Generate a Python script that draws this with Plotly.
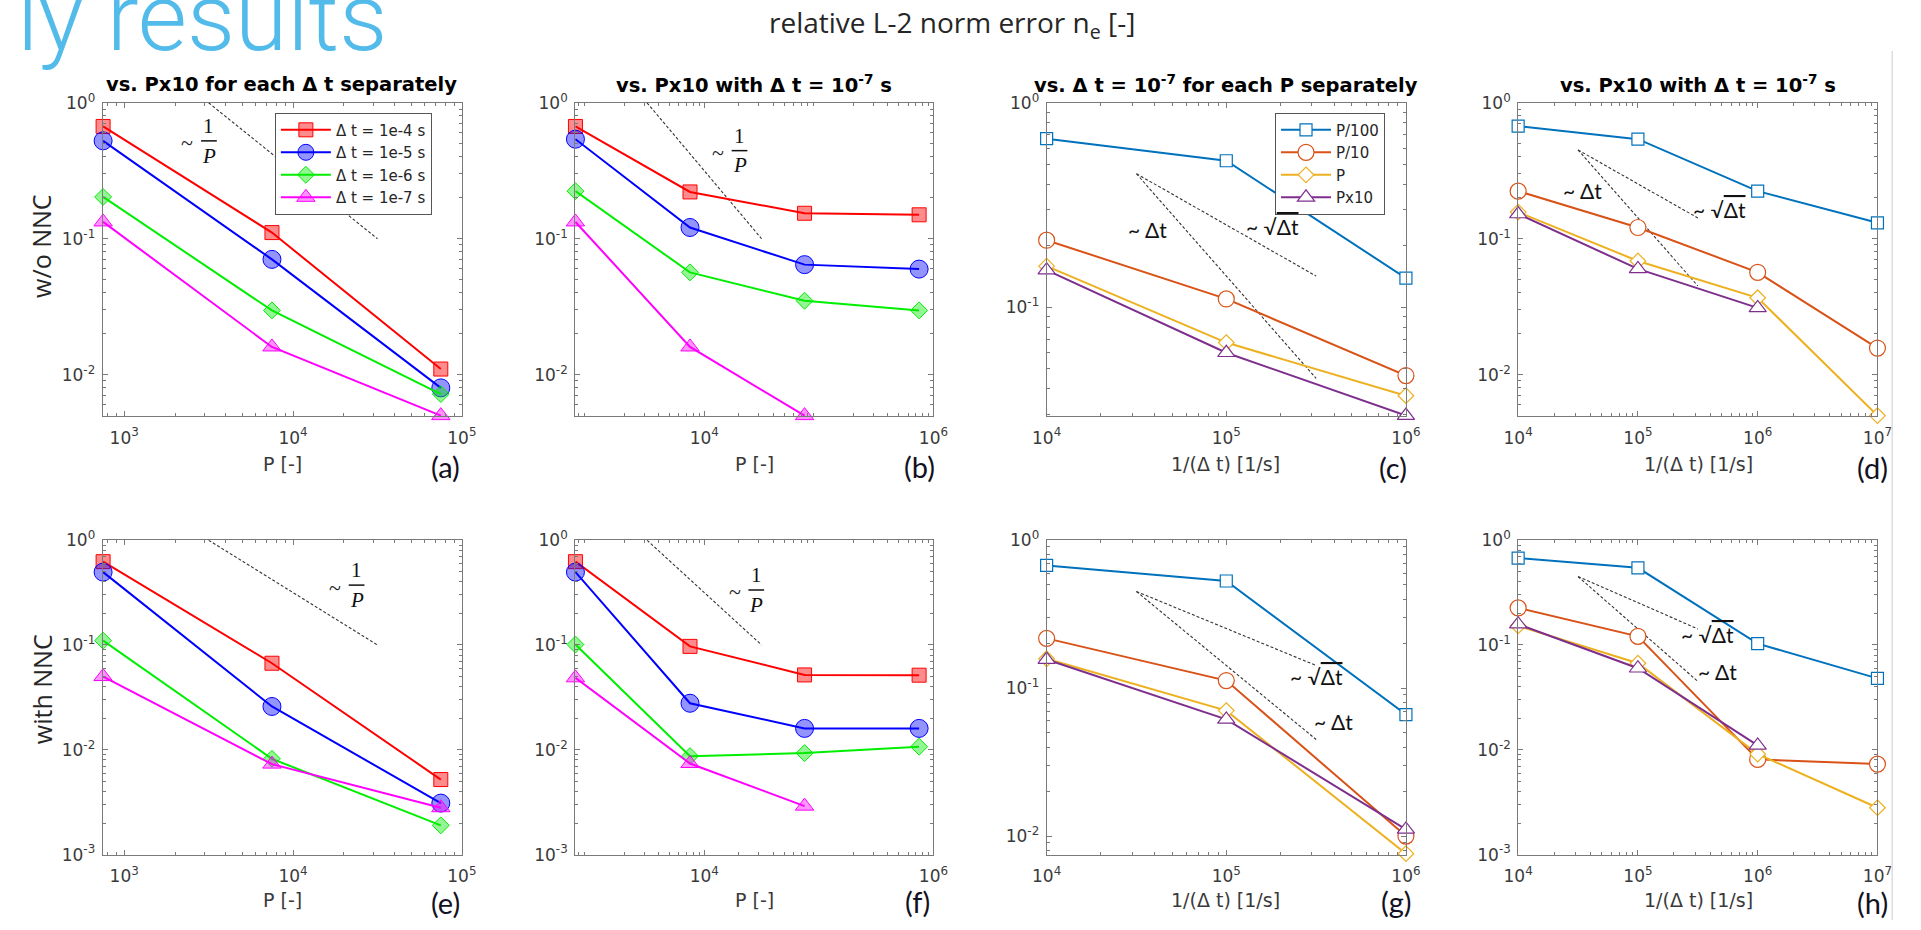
import math
import plotly.graph_objects as go

W, H = 1921, 930

# ---------------- data ----------------
P_three = [750, 7500, 75000]
P_four = [750, 7500, 75000, 750000]
inv_dt_three = [1e4, 1e5, 1e6]
inv_dt_four = [1e4, 1e5, 1e6, 1e7]

dt_names = ["Δ t = 1e-4 s", "Δ t = 1e-5 s", "Δ t = 1e-6 s", "Δ t = 1e-7 s"]
p_names = ["P/100", "P/10", "P", "Px10"]

# (a) w/o NNC, vs P for each dt
a_dt4 = [0.67, 0.111, 0.011]
a_dt5 = [0.525, 0.0705, 0.008]
a_dt6 = [0.203, 0.0297, 0.0072]
a_dt7 = [0.133, 0.016, 0.005]
# (b) w/o NNC, vs Px10
b_dt4 = [0.67, 0.221, 0.154, 0.150]
b_dt5 = [0.54, 0.121, 0.0645, 0.0598]
b_dt6 = [0.224, 0.0566, 0.035, 0.0297]
b_dt7 = [0.133, 0.016, 0.005]
# (c) w/o NNC, vs 1/dt for each P
c_p100 = [0.668, 0.521, 0.139]
c_p10 = [0.213, 0.110, 0.0464]
c_p = [0.159, 0.0673, 0.037]
c_px10 = [0.152, 0.060, 0.0296]
# (d) w/o NNC, vs 1/dt
d_p100 = [0.673, 0.54, 0.224, 0.131]
d_p10 = [0.224, 0.121, 0.0566, 0.0157]
d_p = [0.157, 0.0686, 0.0368, 0.005]
d_px10 = [0.152, 0.060, 0.031]
# (e) with NNC
e_dt4 = [0.624, 0.067, 0.0052]
e_dt5 = [0.496, 0.0259, 0.0031]
e_dt6 = [0.110, 0.0082, 0.0019]
e_dt7 = [0.050, 0.0073, 0.0028]
# (f) with NNC
f_dt4 = [0.624, 0.097, 0.0518, 0.0515]
f_dt5 = [0.496, 0.0278, 0.016, 0.016]
f_dt6 = [0.101, 0.0087, 0.0093, 0.0107]
f_dt7 = [0.0486, 0.0074, 0.0029]
# (g) with NNC
g_p100 = [0.675, 0.53, 0.0663]
g_p10 = [0.217, 0.1125, 0.010]
g_p = [0.158, 0.0705, 0.0076]
g_px10 = [0.156, 0.0615, 0.0111]
# (h) with NNC
h_p100 = [0.675, 0.545, 0.103, 0.048]
h_p10 = [0.226, 0.121, 0.0081, 0.0073]
h_p = [0.152, 0.067, 0.0091, 0.0028]
h_px10 = [0.158, 0.060, 0.011]

# reference slopes
ref_invP_x = [3162, 31623]
ref_invP_y = [1.0, 0.1]
ref_dt_x = [31623, 316228]
ref_dt_y = [0.45, 0.045]
ref_sqrt_x = [31623, 316228]
ref_sqrt_y = [0.45, 0.1423]

# tick labels
xt_P3_vals = [1e3, 1e4, 1e5]
xt_P3_text = ["10<sup>3</sup>", "10<sup>4</sup>", "10<sup>5</sup>"]
xt_P6_vals = [1e4, 1e6]
xt_P6_text = ["10<sup>4</sup>", "10<sup>6</sup>"]
xt_f6_vals = [1e4, 1e5, 1e6]
xt_f6_text = ["10<sup>4</sup>", "10<sup>5</sup>", "10<sup>6</sup>"]
xt_f7_vals = [1e4, 1e5, 1e6, 1e7]
xt_f7_text = ["10<sup>4</sup>", "10<sup>5</sup>", "10<sup>6</sup>", "10<sup>7</sup>"]
yt_2_vals = [1e-2, 1e-1, 1]
yt_2_text = ["10<sup>-2</sup>", "10<sup>-1</sup>", "10<sup>0</sup>"]
yt_1_vals = [1e-1, 1]
yt_1_text = ["10<sup>-1</sup>", "10<sup>0</sup>"]
yt_3_vals = [1e-3, 1e-2, 1e-1, 1]
yt_3_text = ["10<sup>-3</sup>", "10<sup>-2</sup>", "10<sup>-1</sup>", "10<sup>0</sup>"]

# ---------------- styling ----------------
DT_STYLE = [
    dict(color="#FF0000", fill="rgba(255,0,0,0.45)", symbol="square", size=14),
    dict(color="#0000FF", fill="rgba(0,0,255,0.42)", symbol="circle", size=18),
    dict(color="#00EE00", fill="rgba(0,230,0,0.42)", symbol="diamond", size=13),
    dict(color="#FF00FF", fill="rgba(255,0,255,0.42)", symbol="triangle-up", size=16),
]
P_STYLE = [
    dict(color="#0072BD", symbol="square", size=12),
    dict(color="#D95319", symbol="circle", size=16),
    dict(color="#EDB120", symbol="diamond", size=12),
    dict(color="#7E2F8E", symbol="triangle-up", size=15),
]

rects = {
    1: (89, 93, 454, 414), 2: (569, 93, 933, 414),
    3: (1048, 93, 1413, 414), 4: (1527, 93, 1892, 414),
    5: (89, 541, 454, 863), 6: (569, 541, 933, 863),
    7: (1048, 541, 1413, 863), 8: (1527, 541, 1892, 863),
}
x_lo = math.log10(745)
y_lo = math.log10(0.00495)
xranges = {1: [x_lo, 5], 2: [x_lo, 6], 3: [4, 6], 4: [4, 7]}
xranges.update({5: xranges[1], 6: xranges[2], 7: xranges[3], 8: xranges[4]})
yranges = {1: [y_lo, 0], 2: [y_lo, 0], 3: [-1.532, 0],
           4: [y_lo, 0], 5: [-3, 0], 6: [-3, 0], 7: [-2.125, 0], 8: [-3, 0]}
xticks = {1: (xt_P3_vals, xt_P3_text), 2: (xt_P6_vals, xt_P6_text),
          3: (xt_f6_vals, xt_f6_text), 4: (xt_f7_vals, xt_f7_text)}
xticks.update({5: xticks[1], 6: xticks[2], 7: xticks[3], 8: xticks[4]})
yticks = {1: (yt_2_vals, yt_2_text), 2: (yt_2_vals, yt_2_text), 3: (yt_1_vals, yt_1_text),
          4: (yt_2_vals, yt_2_text), 5: (yt_3_vals, yt_3_text), 6: (yt_3_vals, yt_3_text),
          7: (yt_2_vals, yt_2_text), 8: (yt_3_vals, yt_3_text)}


def px(x):
    return x / W


def py(y):
    return 1 - y / H


def minor_vals(rng):
    lo, hi = int(math.floor(rng[0])), int(math.ceil(rng[1]))
    out = []
    for k in range(lo, hi):
        for m in range(2, 10):
            v = m * 10 ** k
            if rng[0] <= math.log10(v) <= rng[1]:
                out.append(v)
    return out


fig = go.Figure()


def axname(i):
    return ("x" if i == 1 else f"x{i}"), ("y" if i == 1 else f"y{i}")


def add_dt_panel(i, xs_list, ys_list, showleg):
    xa, ya = axname(i)
    for k, (xs, ys) in enumerate(zip(xs_list, ys_list)):
        s = DT_STYLE[k]
        fig.add_trace(go.Scatter(
            x=xs[:len(ys)], y=ys, mode="lines+markers", name=dt_names[k],
            xaxis=xa, yaxis=ya, showlegend=showleg, legend="legend",
            line=dict(color=s["color"], width=2),
            marker=dict(symbol=s["symbol"], size=s["size"], color=s["fill"],
                        line=dict(color=s["color"], width=1)),
            cliponaxis=False))


def add_p_panel(i, xs, ys_list, showleg):
    xa, ya = axname(i)
    for k, ys in enumerate(ys_list):
        s = P_STYLE[k]
        fig.add_trace(go.Scatter(
            x=xs[:len(ys)], y=ys, mode="lines+markers", name=p_names[k],
            xaxis=xa, yaxis=ya, showlegend=showleg, legend="legend2",
            line=dict(color=s["color"], width=2),
            marker=dict(symbol=s["symbol"], size=s["size"], color="white",
                        line=dict(color=s["color"], width=1.2)),
            cliponaxis=False))


def add_ref(i, xs, ys):
    xa, ya = axname(i)
    fig.add_trace(go.Scatter(x=xs, y=ys, mode="lines", xaxis=xa, yaxis=ya,
                             showlegend=False, hoverinfo="skip",
                             line=dict(color="#333333", width=1.1, dash="3px,2px")))


for i in (1, 2, 5, 6):
    add_ref(i, ref_invP_x, ref_invP_y)
for i in (3, 4, 7, 8):
    add_ref(i, ref_dt_x, ref_dt_y)
    add_ref(i, ref_sqrt_x, ref_sqrt_y)

add_dt_panel(1, [P_three] * 4, [a_dt4, a_dt5, a_dt6, a_dt7], True)
add_dt_panel(2, [P_four] * 4, [b_dt4, b_dt5, b_dt6, b_dt7], False)
add_p_panel(3, inv_dt_three, [c_p100, c_p10, c_p, c_px10], True)
add_p_panel(4, inv_dt_four, [d_p100, d_p10, d_p, d_px10], False)
add_dt_panel(5, [P_three] * 4, [e_dt4, e_dt5, e_dt6, e_dt7], False)
add_dt_panel(6, [P_four] * 4, [f_dt4, f_dt5, f_dt6, f_dt7], False)
add_p_panel(7, inv_dt_three, [g_p100, g_p10, g_p, g_px10], False)
add_p_panel(8, inv_dt_four, [h_p100, h_p10, h_p, h_px10], False)

AXC = "#7a7a7a"
TICKFONT = dict(family="DejaVu Sans", size=17, color="#3a3a3a")
layout = dict(
    width=W, height=H, margin=dict(l=0, r=0, t=0, b=0),
    paper_bgcolor="white", plot_bgcolor="white", showlegend=True,
)
for i, (l, t, r, b) in rects.items():
    xk = "xaxis" if i == 1 else f"xaxis{i}"
    yk = "yaxis" if i == 1 else f"yaxis{i}"
    xa, ya = axname(i)
    layout[xk] = dict(
        type="log", domain=[px(l), px(r)], range=xranges[i], anchor=ya,
        showline=True, linecolor=AXC, linewidth=1, mirror="ticks",
        ticks="inside", ticklen=5, tickcolor=AXC, tickwidth=1,
        tickmode="array", tickvals=xticks[i][0], ticktext=xticks[i][1],
        tickfont=TICKFONT, showgrid=False, zeroline=False, ticklabelstandoff=6,
        minor=dict(tickmode="array", tickvals=minor_vals(xranges[i]), ticks="inside",
                   ticklen=3, tickcolor=AXC, tickwidth=1, showgrid=False),
    )
    layout[yk] = dict(
        type="log", domain=[py(b), py(t)], range=yranges[i], anchor=xa,
        showline=True, linecolor=AXC, linewidth=1, mirror="ticks",
        ticks="inside", ticklen=5, tickcolor=AXC, tickwidth=1,
        tickmode="array", tickvals=yticks[i][0], ticktext=yticks[i][1],
        tickfont=TICKFONT, showgrid=False, zeroline=False, ticklabelstandoff=3,
        minor=dict(tickmode="array", tickvals=minor_vals(yranges[i]), ticks="inside",
                   ticklen=3, tickcolor=AXC, tickwidth=1, showgrid=False),
    )

leg_common = dict(bgcolor="white", bordercolor="#555555", borderwidth=1,
                  font=dict(family="DejaVu Sans", size=15, color="#262626"),
                  xanchor="left", yanchor="top", tracegroupgap=0, itemwidth=50,
                  itemclick=False)
layout["legend"] = dict(x=px(264), y=py(103), **leg_common)
layout["legend2"] = dict(x=px(1280), y=py(103), **leg_common)

anns = []
shapes = []


def ann(x, y, text, size, family="DejaVu Sans", color="#262626", **kw):
    d = dict(x=px(x), y=py(y), xref="paper", yref="paper", text=text, showarrow=False,
             font=dict(family=family, size=size, color=color), xanchor="center",
             yanchor="middle")
    d.update(kw)
    anns.append(d)


# slide title fragment and header
ann(0, 6, "ly results", 95, family="Roboto", color="#52BBEA", xanchor="left")
anns[-1]["font"]["weight"] = 300
ann(952, 12, "relative L-2 norm error n<sub>e</sub> [-]", 28, family="Open Sans", color="#262626")

# panel titles
TY = 74
ann(271, TY, "<b>vs. Px10 for each Δ t separately</b>", 19.5, color="black")
ann(751, TY, "<b>vs. Px10 with Δ t = 10<sup>-7</sup> s</b>", 19.5, color="black")
ann(1230, TY, "<b>vs. Δ t = 10<sup>-7</sup> for each P separately</b>", 19.5, color="black")
ann(1710, TY, "<b>vs. Px10 with Δ t = 10<sup>-7</sup> s</b>", 19.5, color="black")

# axis titles
for yy in (463, 910):
    ann(272, yy, "P [-]", 19, color="#3a3a3a")
    ann(751, yy, "P [-]", 19, color="#3a3a3a")
    ann(1230, yy, "1/(Δ t) [1/s]", 19, color="#3a3a3a")
    ann(1710, yy, "1/(Δ t) [1/s]", 19, color="#3a3a3a")

# panel letters
for (x, y, t) in [(437, 465, "(a)"), (919, 465, "(b)"), (1400, 467, "(c)"), (1887, 467, "(d)"),
                  (437, 912, "(e)"), (917, 911, "(f)"), (1403, 911, "(g)"), (1887, 912, "(h)")]:
    ann(x, y, t, 29, family="Lato", color="#111122")

# row labels
ann(27, 240, "w/o NNC", 25, family="Open Sans", color="#262626", textangle=-90)
ann(27, 694, "with NNC", 25, family="Open Sans", color="#262626", textangle=-90)


# ~ 1/P labels
def frac(cx, cy):
    ann(cx - 22, cy + 2, "~", 22, family="Liberation Serif", color="#222222")
    ann(cx, cy - 15, "1", 21, family="Liberation Serif", color="#111111")
    ann(cx, cy + 15, "<i>P</i>", 21, family="Liberation Serif", color="#111111")
    shapes.append(dict(type="line", xref="paper", yref="paper", x0=px(cx - 8), x1=px(cx + 8),
                       y0=py(cy), y1=py(cy), line=dict(color="#111111", width=1.5)))


frac(197, 132)
frac(736, 142)
frac(347, 587)
frac(753, 592)

SQRT = "~ √<span style='text-decoration:overline'>Δt</span>"
DT = "~ Δt"
for (x, y, t) in [(1150, 223, DT), (1277, 220, SQRT), (1592, 183, DT), (1732, 202, SQRT),
                  (1322, 681, SQRT), (1339, 727, DT), (1719, 638, SQRT), (1730, 675, DT)]:
    ann(x, y, t, 21, family="Lato", color="#111111")

# slide edge line
shapes.append(dict(type="line", xref="paper", yref="paper", x0=px(1907), x1=px(1907),
                   y0=0, y1=py(40), layer="below", line=dict(color="#dddddd", width=1.5)))

layout["annotations"] = anns
layout["shapes"] = shapes
fig.update_layout(**layout)
fig.write_html("out.html")
